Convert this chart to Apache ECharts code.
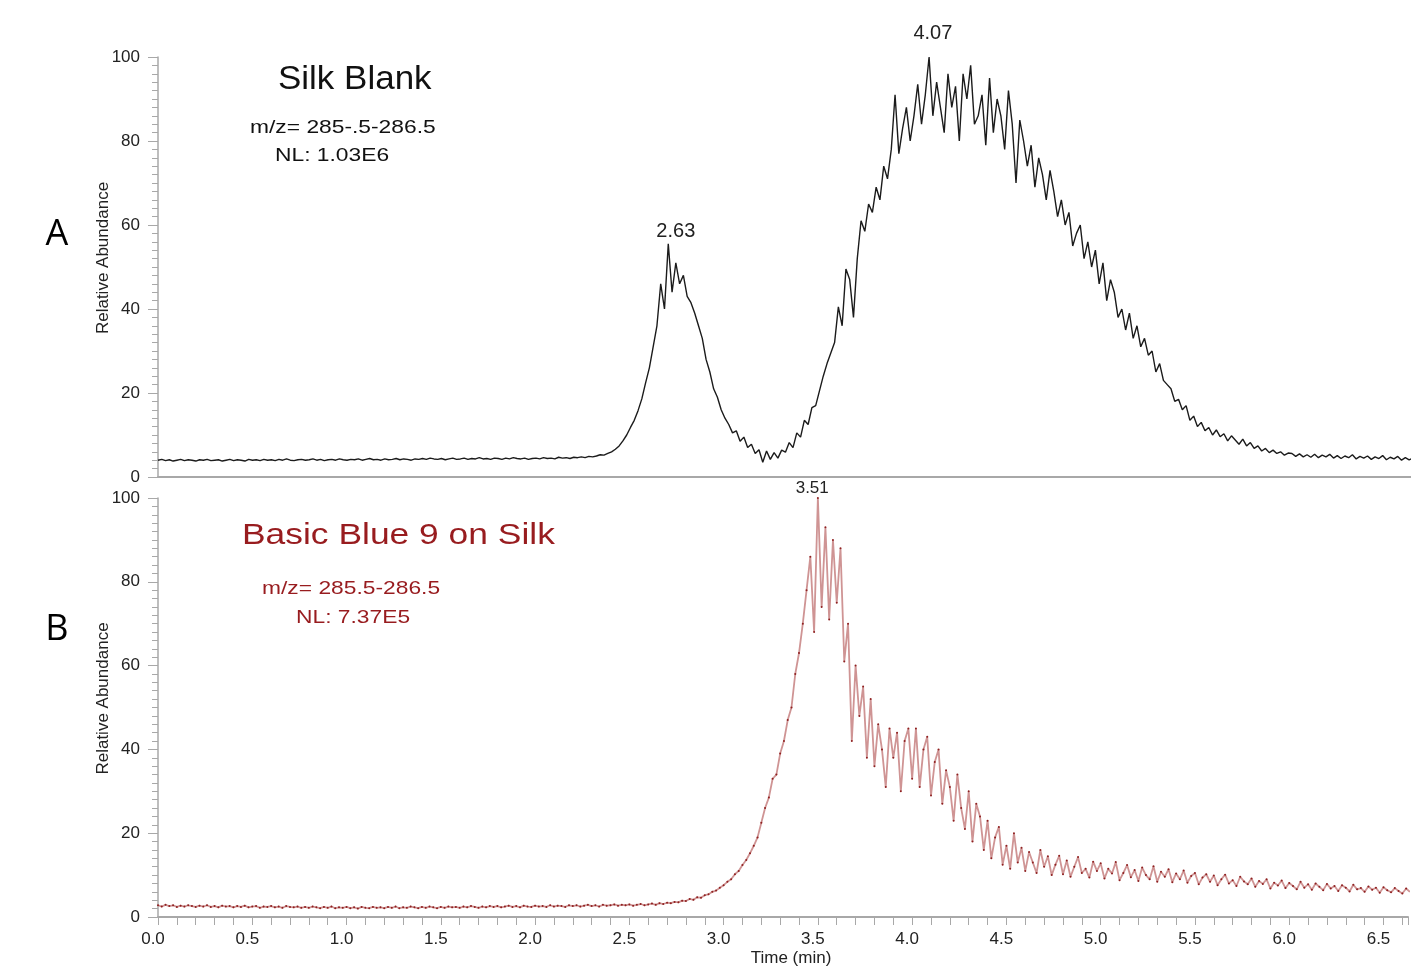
<!DOCTYPE html>
<html>
<head>
<meta charset="utf-8">
<title>Silk Blank / Basic Blue 9 on Silk</title>
<script src="https://cdn.jsdelivr.net/npm/echarts@6/dist/echarts.min.js"></script>
<style>
  html, body { margin: 0; padding: 0; background: #fff; }
  #chart { width: 1411px; height: 968px; }
</style>
</head>
<body>
<div id="chart"></div>
<script>
// two ion chromatograms, one scan every 0.02 min
const scanStart = 0;
const scanStep = 0.02;

// A: Silk Blank, relative abundance (%)
const silkBlank = [
  4.0, 4.2, 3.9, 4.1, 3.8, 4.0, 4.2, 3.9, 4.1, 4.0,
  3.8, 4.1, 4.0, 4.2, 3.9, 4.0, 4.1, 3.8, 4.0, 4.2,
  3.9, 4.1, 4.0, 3.8, 4.2, 4.0, 4.1, 3.9, 4.2, 4.0,
  4.1, 3.9, 4.2, 4.0, 4.3, 4.0, 3.9, 4.1, 4.2, 4.0,
  4.1, 4.3, 4.0, 4.2, 3.9, 4.1, 4.2, 4.0, 4.3, 4.1,
  4.0, 4.2, 4.1, 4.3, 4.0, 4.2, 4.4, 4.1, 4.2, 4.0,
  4.3, 4.1, 4.2, 4.4, 4.1, 4.3, 4.2, 4.0, 4.3, 4.2,
  4.4, 4.2, 4.5, 4.3, 4.2, 4.4, 4.1, 4.3, 4.5, 4.2,
  4.3, 4.5, 4.2, 4.4, 4.3, 4.6, 4.3, 4.4, 4.2, 4.5,
  4.4, 4.2, 4.5, 4.3, 4.6, 4.4, 4.3, 4.5, 4.2, 4.4,
  4.5, 4.3, 4.6, 4.4, 4.5, 4.3, 4.7, 4.5, 4.6, 4.4,
  4.7, 4.6, 4.8, 4.6, 4.9, 4.8, 5.0, 5.3, 5.2, 5.6,
  6.0, 6.6, 7.4, 8.6, 10.0, 11.8, 13.5, 15.8, 18.6, 22.4,
  26.0, 31.0, 36.0, 46.0, 40.0, 55.5, 44.0, 51.0, 46.0, 48.0,
  43.0, 41.5, 39.0, 36.0, 33.0, 28.0, 25.0, 21.0, 19.0, 16.0,
  14.0, 12.5, 10.5, 11.0, 8.5, 9.5, 7.0, 7.8, 5.6, 6.5,
  3.5, 6.2, 4.2, 5.8, 4.5, 6.4, 5.9, 8.2, 7.0, 10.5,
  9.5, 13.5, 12.5, 16.5, 17.0, 20.5, 24.0, 27.0, 29.5, 32.0,
  40.5, 36.0, 49.5, 47.0, 38.0, 52.0, 61.0, 58.5, 65.0, 63.0,
  69.0, 66.0, 74.0, 71.0, 78.0, 91.0, 77.0, 83.0, 88.0, 80.0,
  86.0, 93.5, 84.0, 91.0, 100.0, 86.0, 94.0, 88.0, 82.0, 96.0,
  88.0, 93.0, 80.0, 96.0, 90.0, 98.0, 84.0, 86.0, 91.0, 79.0,
  95.0, 82.0, 90.0, 86.0, 78.0, 92.0, 84.0, 70.0, 85.0, 80.0,
  74.0, 79.0, 69.0, 76.0, 72.0, 66.0, 73.0, 68.0, 62.0, 66.0,
  60.0, 63.0, 55.0, 58.0, 60.0, 52.0, 56.0, 50.0, 54.0, 46.0,
  51.0, 42.0, 47.0, 44.0, 38.0, 40.0, 35.0, 39.0, 33.0, 36.0,
  31.0, 33.0, 29.0, 30.0, 25.0, 27.0, 23.0, 22.0, 21.0, 18.0,
  18.5, 16.0, 17.0, 13.5, 14.5, 12.0, 13.0, 11.0, 11.8, 10.0,
  11.2, 9.6, 10.3, 8.6, 9.8, 8.8, 7.8, 9.0, 7.4, 8.2,
  6.8, 7.4, 6.2, 6.8, 5.8, 6.4, 5.6, 6.0, 5.2, 5.7,
  5.6, 4.9, 5.5, 4.8, 5.3, 4.7, 5.4, 4.6, 5.2, 4.8,
  5.4, 4.5, 5.1, 4.4, 5.0, 4.6, 5.3, 4.3, 4.9, 4.5,
  5.0, 4.2, 4.8, 4.4, 5.1, 4.1, 4.7, 4.3, 4.9, 4.0,
  4.6, 4.1, 4.5
];

// B: Basic Blue 9 on Silk, relative abundance (%)
const basicBlue9 = [
  2.8, 2.5, 2.9, 2.6, 2.8, 2.4, 2.7, 2.5, 2.8, 2.6,
  2.4, 2.7, 2.5, 2.8, 2.4, 2.6, 2.3, 2.7, 2.5, 2.6,
  2.3, 2.6, 2.4, 2.7, 2.3, 2.5, 2.6, 2.2, 2.5, 2.4,
  2.6, 2.3, 2.5, 2.2, 2.6, 2.4, 2.3, 2.5, 2.2, 2.4,
  2.2, 2.5, 2.3, 2.1, 2.4, 2.2, 2.5, 2.1, 2.3, 2.2,
  2.4, 2.1, 2.3, 2.0, 2.4, 2.2, 2.1, 2.4, 2.2, 2.3,
  2.1, 2.4, 2.2, 2.5, 2.1, 2.3, 2.2, 2.5, 2.3, 2.1,
  2.4, 2.2, 2.5, 2.3, 2.1, 2.4, 2.2, 2.5, 2.3, 2.4,
  2.2, 2.5, 2.3, 2.6, 2.4, 2.2, 2.5, 2.3, 2.6, 2.4,
  2.6, 2.3, 2.5, 2.7, 2.4, 2.6, 2.3, 2.7, 2.5, 2.4,
  2.7, 2.5, 2.6, 2.4, 2.8, 2.5, 2.7, 2.6, 2.4, 2.8,
  2.6, 2.8, 2.5, 2.7, 2.9, 2.6, 2.8, 2.5, 2.9, 2.7,
  2.8, 3.0, 2.7, 2.9, 2.8, 3.0, 2.7, 2.9, 3.1, 2.8,
  3.0, 3.2, 2.9, 3.3, 3.1, 3.4, 3.3, 3.6, 3.5, 3.9,
  3.8, 4.3, 4.1, 4.7, 4.6, 5.2, 5.4, 6.0, 6.3, 7.0,
  7.6, 8.4, 9.0, 10.2, 11.0, 12.4, 13.6, 15.2, 17.0, 19.0,
  22.5, 26.0, 28.5, 33.0, 34.0, 39.0, 42.0, 47.0, 50.0, 58.0,
  63.0, 70.0, 78.0, 86.0, 68.0, 100.0, 74.0, 93.0, 71.0, 90.0,
  75.0, 88.0, 61.0, 70.0, 42.0, 60.0, 48.0, 55.0, 38.0, 52.0,
  36.0, 46.0, 40.0, 31.0, 45.0, 38.0, 44.0, 30.0, 42.0, 45.0,
  33.0, 45.0, 31.0, 40.0, 43.0, 29.0, 37.0, 40.0, 27.0, 35.0,
  31.0, 23.0, 34.0, 26.0, 21.0, 30.0, 18.0, 27.0, 24.0, 16.0,
  23.0, 14.0, 19.0, 21.5, 12.5, 17.0, 11.5, 20.0, 13.0, 16.5,
  11.0, 15.5, 13.0, 10.5, 16.0, 12.0, 14.5, 10.0, 12.5, 14.6,
  10.2, 13.5, 9.6, 12.0, 14.3, 10.5, 11.5, 9.4, 13.2, 11.0,
  12.8, 9.2, 11.5, 10.4, 13.1, 8.8, 10.5, 12.4, 9.5, 11.2,
  8.6, 11.8, 10.0, 9.0, 12.1, 8.4, 10.8, 9.6, 11.4, 8.3,
  10.4, 9.0, 11.1, 8.2, 9.8, 10.5, 7.8, 9.4, 10.2, 8.4,
  9.9, 7.6, 9.0, 10.1, 8.0, 8.8, 7.4, 9.6, 8.5, 7.8,
  9.2, 7.2, 8.6, 7.9, 9.0, 6.8, 8.2, 7.5, 8.7, 6.9,
  8.1, 7.4, 6.6, 8.4, 7.0, 7.8, 6.5, 8.0, 7.2, 6.4,
  7.9, 6.8, 7.4, 6.2, 7.6, 7.0, 6.1, 7.7, 6.6, 6.9,
  6.0, 7.3, 6.5, 7.0, 5.8, 7.1, 6.4, 5.9, 6.9, 6.2,
  5.6, 6.8, 6.0
];

// peak retention-time labels: where the label sits and what it says
const peakTimesA = [2.74, 4.10];
const peakTopsA = [56, 100];
const peakTextsA = ['2.63', '4.07'];
const peakTimesB = [3.47];
const peakTopsB = [100];
const peakTextsB = ['3.51'];

const timeMax = 6.63;

const toPairs = arr => arr.map((v, i) => [+(scanStart + i * scanStep).toFixed(2), v]);

const axisGray = '#a8a8a8';
const textDark = '#222';
const red = '#981c1f';

function yAxisFor(grid) {
    return {
        type: 'value',
        gridIndex: grid,
        min: 0,
        max: 100,
        interval: 20,
        name: 'Relative Abundance',
        nameLocation: 'middle',
        nameRotate: 90,
        nameGap: 46,
        nameMoveOverlap: false,
        nameTextStyle: { fontSize: 17, color: textDark, fontFamily: 'Liberation Sans', padding: [0, 0, 0, 18] },
        axisLine: { show: true, lineStyle: { color: axisGray, width: 1.5 } },
        axisTick: { show: true, length: 10, lineStyle: { color: axisGray } },
        minorTick: { show: true, splitNumber: 10, length: 6, lineStyle: { color: axisGray } },
        axisLabel: { fontSize: 17, color: textDark, fontFamily: 'Liberation Sans', margin: 18 },
        splitLine: { show: false }
    };
}

function peakMarks(times, tops, texts, size, lifts) {
    return {
        symbol: 'circle',
        symbolSize: 0,
        silent: true,
        data: times.map((t, i) => ({
            coord: [t, tops[i]],
            label: { show: true, position: 'inside', offset: [0, -lifts[i]], fontSize: size, color: textDark, fontFamily: 'Liberation Sans', formatter: texts[i] }
        }))
    };
}

const chart = echarts.init(document.getElementById('chart'));
const option = {
    animation: false,
    backgroundColor: '#fff',
    grid: [
        { left: 158, top: 57, right: 0, height: 420 },
        { left: 158, top: 498, right: 0, height: 419 }
    ],
    xAxis: [
        {
            type: 'value', gridIndex: 0, min: 0, max: timeMax,
            axisLine: { show: true, lineStyle: { color: axisGray, width: 2 } },
            axisTick: { show: false }, axisLabel: { show: false }, splitLine: { show: false }
        },
        {
            type: 'value', gridIndex: 1, min: 0, max: timeMax, interval: 0.1,
            name: 'Time (min)',
            nameLocation: 'middle',
            nameGap: 33,
            nameMoveOverlap: false,
            nameTextStyle: { fontSize: 17, color: textDark, fontFamily: 'Liberation Sans', padding: [0, 0, 0, 16] },
            axisLine: { show: true, lineStyle: { color: axisGray, width: 2 } },
            axisTick: { show: true, length: 8, lineStyle: { color: axisGray } },
            axisLabel: {
                fontSize: 17, color: textDark, fontFamily: 'Liberation Sans', margin: 14,
                padding: [0, 10, 0, 0],
                formatter: v => (Math.abs(v * 2 - Math.round(v * 2)) < 1e-6 ? v.toFixed(1) : '')
            },
            splitLine: { show: false }
        }
    ],
    yAxis: [yAxisFor(0), yAxisFor(1)],
    series: [
        {
            name: 'Silk Blank',
            type: 'line',
            xAxisIndex: 0, yAxisIndex: 0,
            data: toPairs(silkBlank),
            showSymbol: false,
            lineStyle: { color: '#1b1b1b', width: 1.4 },
            markPoint: peakMarks(peakTimesA, peakTopsA, peakTextsA, 20, [10, 24])
        },
        {
            name: 'Basic Blue 9 on Silk',
            type: 'line',
            xAxisIndex: 1, yAxisIndex: 1,
            data: toPairs(basicBlue9),
            showSymbol: true,
            symbol: 'circle',
            symbolSize: 2,
            itemStyle: { color: '#8e2020' },
            lineStyle: { color: '#cf9494', width: 1.8 },
            markPoint: peakMarks(peakTimesB, peakTopsB, peakTextsB, 17, [10])
        }
    ],
    graphic: [
        { type: 'text', x: 57, y: 235, style: { text: 'A', fontSize: 36, fontFamily: 'Open Sans', fill: '#000', align: 'center', verticalAlign: 'middle', textAlign: 'center', textVerticalAlign: 'middle' } },
        { type: 'text', x: 57, y: 630, style: { text: 'B', fontSize: 36, fontFamily: 'Open Sans', fill: '#000', align: 'center', verticalAlign: 'middle', textAlign: 'center', textVerticalAlign: 'middle' } },
        { type: 'text', x: 278, y: 80, scaleX: 1.06, style: { text: 'Silk Blank', fontSize: 33, fontFamily: 'Liberation Sans', fill: '#111', align: 'left', verticalAlign: 'middle', textAlign: 'left', textVerticalAlign: 'middle' } },
        { type: 'text', x: 250, y: 128, scaleX: 1.2, style: { text: 'm/z= 285-.5-286.5', fontSize: 19, fontFamily: 'Liberation Sans', fill: '#111', align: 'left', verticalAlign: 'middle', textAlign: 'left', textVerticalAlign: 'middle' } },
        { type: 'text', x: 275, y: 156, scaleX: 1.2, style: { text: 'NL: 1.03E6', fontSize: 19, fontFamily: 'Liberation Sans', fill: '#111', align: 'left', verticalAlign: 'middle', textAlign: 'left', textVerticalAlign: 'middle' } },
        { type: 'text', x: 242, y: 536, scaleX: 1.18, style: { text: 'Basic Blue 9 on Silk', fontSize: 30, fontFamily: 'Liberation Sans', fill: red, align: 'left', verticalAlign: 'middle', textAlign: 'left', textVerticalAlign: 'middle' } },
        { type: 'text', x: 262, y: 589, scaleX: 1.2, style: { text: 'm/z= 285.5-286.5', fontSize: 19, fontFamily: 'Liberation Sans', fill: red, align: 'left', verticalAlign: 'middle', textAlign: 'left', textVerticalAlign: 'middle' } },
        { type: 'text', x: 296, y: 618, scaleX: 1.2, style: { text: 'NL: 7.37E5', fontSize: 19, fontFamily: 'Liberation Sans', fill: red, align: 'left', verticalAlign: 'middle', textAlign: 'left', textVerticalAlign: 'middle' } }
    ]
};
chart.setOption(option);
window.onresize = () => chart.resize();
</script>
</body>
</html>
